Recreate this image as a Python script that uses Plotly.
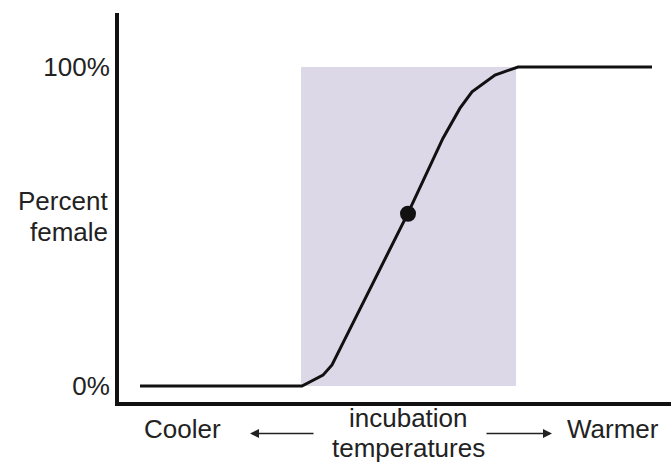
import plotly.graph_objects as go

# Incubation temperature (arbitrary units, cooler -> warmer) vs percent female
temperature = [23, 185, 206, 215, 226, 291, 326, 343, 355, 378, 401, 535]
percent_female = [0, 0, 3.4, 6.6, 13.5, 54.2, 77.7, 87.1, 92.2, 97.5, 100, 100]

# Pivotal temperature marked with a dot
pivot_temp = [291]
pivot_pct = [54]

# Transitional range of temperatures (shaded band)
band_temp = [184, 399]
band_pct = [0, 100]

tick_vals = [0, 100]
tick_text = ["0%", "100%"]

FONT = "Liberation Sans, Arial, Helvetica, sans-serif"
INK = "#222222"

fig = go.Figure()

fig.add_shape(
    type="rect",
    x0=band_temp[0], x1=band_temp[1], y0=band_pct[0], y1=band_pct[1],
    fillcolor="rgb(220,216,232)", line=dict(width=0), layer="below",
)

fig.add_trace(go.Scatter(
    x=temperature, y=percent_female, mode="lines",
    line=dict(color="#111111", width=3),
    hoverinfo="skip", showlegend=False,
))

fig.add_trace(go.Scatter(
    x=pivot_temp, y=pivot_pct, mode="markers",
    marker=dict(color="#111111", size=16),
    hoverinfo="skip", showlegend=False,
))

big = dict(family=FONT, size=26, color=INK)

# y-axis title, two lines right aligned next to the axis
fig.add_annotation(text="Percent", xref="paper", yref="y", x=-0.016, y=58.0,
                   xanchor="right", yanchor="middle", showarrow=False, font=big,
                   height=28)
fig.add_annotation(text="female", xref="paper", yref="y", x=-0.016, y=48.3,
                   xanchor="right", yanchor="middle", showarrow=False, font=big,
                   height=28)

# x-axis captions (paper y, below the axis)
cap = dict(yref="paper", yanchor="middle", xanchor="center",
           showarrow=False, font=big, height=28)
fig.add_annotation(text="Cooler", x=65, y=-0.0694, **cap)
fig.add_annotation(text="Warmer", x=496, y=-0.0694, **cap)
fig.add_annotation(text="incubation", x=291, y=-0.040, **cap)
fig.add_annotation(text="temperatures", x=291, y=-0.117, **cap)

# direction arrows
arrow = dict(text="", yref="paper", showarrow=True, arrowhead=2, arrowsize=1.2,
             arrowwidth=1.5, arrowcolor=INK, axref="x", ayref="pixel", ay=0)
fig.add_annotation(x=133, y=-0.081, ax=198, **arrow)
fig.add_annotation(x=435, y=-0.081, ax=368, **arrow)

fig.update_layout(
    width=671, height=468,
    margin=dict(l=119, r=0, t=13, b=66),
    paper_bgcolor="white", plot_bgcolor="white",
    xaxis=dict(
        range=[2, 554], showgrid=False, zeroline=False,
        showticklabels=False, ticks="",
        showline=True, linecolor="#111111", linewidth=4,
    ),
    yaxis=dict(
        range=[-5.02, 116.93], showgrid=False, zeroline=False,
        tickvals=tick_vals, ticktext=tick_text, ticks="",
        tickfont=big,
        showline=True, linecolor="#111111", linewidth=4,
    ),
)

# drop the page's default body margin so the figure sits at the window edge
fig.write_html("out.html", config={"displayModeBar": False},
               post_script="document.body.style.margin='0';")
